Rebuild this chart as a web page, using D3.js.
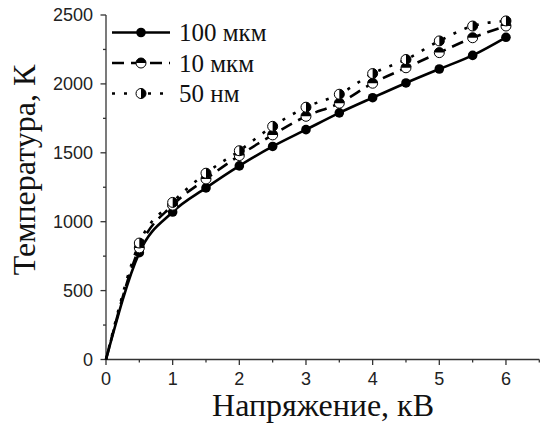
<!DOCTYPE html>
<html>
<head>
<meta charset="utf-8">
<script src="https://cdn.jsdelivr.net/npm/d3@7"></script>
<style>
  html, body { margin: 0; padding: 0; background: #fff; }
  svg { display: block; }
</style>
</head>
<body>
<svg id="chart" width="546" height="426"></svg>
<script>
// Voltage, kV
const voltage = [0, 0.5, 1, 1.5, 2, 2.5, 3, 3.5, 4, 4.5, 5, 5.5, 6];
// Temperature, K, for three particle sizes
const temp100um = [0, 775, 1070, 1245, 1405, 1546, 1668, 1790, 1900, 2007, 2108, 2207, 2338];
const temp10um  = [0, 810, 1120, 1310, 1480, 1630, 1765, 1860, 2005, 2117, 2227, 2335, 2420];
const temp50nm  = [0, 845, 1140, 1352, 1515, 1692, 1831, 1925, 2075, 2177, 2312, 2420, 2457];
const seriesNames = ["100 мкм", "10 мкм", "50 нм"];
const xTicks = [0, 1, 2, 3, 4, 5, 6];
const yTicks = [0, 500, 1000, 1500, 2000, 2500];

const svg = d3.select("#chart");
const x = d3.scaleLinear().domain([0, 6.5]).range([106, 539.3]);
const y = d3.scaleLinear().domain([0, 2500]).range([359.5, 15]);

const axisColor = "#333";

// X axis
const xAxis = svg.append("g").attr("transform", `translate(0,${y(0)})`);
xAxis.append("line").attr("x1", x(0)).attr("x2", x(6.5)).attr("stroke", axisColor).attr("stroke-width", 1.3);
xAxis.selectAll("line.minor").data(d3.range(0.5, 6.6, 1)).join("line")
  .attr("x1", d => x(d)).attr("x2", d => x(d)).attr("y1", 0).attr("y2", 3)
  .attr("stroke", axisColor).attr("stroke-width", 1.3);
xAxis.selectAll("line.major").data(xTicks).join("line")
  .attr("x1", d => x(d)).attr("x2", d => x(d)).attr("y1", 0).attr("y2", 5.5)
  .attr("stroke", axisColor).attr("stroke-width", 1.3);
xAxis.selectAll("text").data(xTicks).join("text")
  .attr("x", d => x(d)).attr("y", 25).attr("text-anchor", "middle")
  .attr("font-family", "Liberation Sans, Arial, sans-serif").attr("font-size", 18).attr("fill", "#222")
  .text(d => d);

// Y axis
const yAxis = svg.append("g").attr("transform", `translate(${x(0)},0)`);
yAxis.append("line").attr("y1", y(0)).attr("y2", y(2500)).attr("stroke", axisColor).attr("stroke-width", 1.3);
yAxis.selectAll("line.minor").data(d3.range(250, 2500, 500)).join("line")
  .attr("y1", d => y(d)).attr("y2", d => y(d)).attr("x1", 0).attr("x2", -3)
  .attr("stroke", axisColor).attr("stroke-width", 1.3);
yAxis.selectAll("line.major").data(yTicks).join("line")
  .attr("y1", d => y(d)).attr("y2", d => y(d)).attr("x1", 0).attr("x2", -5.5)
  .attr("stroke", axisColor).attr("stroke-width", 1.3);
yAxis.selectAll("text").data(yTicks).join("text")
  .attr("x", -13).attr("y", d => y(d)).attr("dy", "0.35em").attr("text-anchor", "end")
  .attr("font-family", "Liberation Sans, Arial, sans-serif").attr("font-size", 18).attr("fill", "#222")
  .text(d => d);

// Axis titles
svg.append("text").attr("x", 323).attr("y", 416).attr("text-anchor", "middle")
  .attr("font-family", "Liberation Serif, Times New Roman, serif").attr("font-size", 32).attr("fill", "#111")
  .text("Напряжение, кВ");
svg.append("text").attr("transform", "translate(35,170) rotate(-90)").attr("text-anchor", "middle")
  .attr("font-family", "Liberation Serif, Times New Roman, serif").attr("font-size", 32).attr("fill", "#111")
  .text("Температура, К");

// Series
const series = [
  { name: seriesNames[0], values: temp100um, dash: null, marker: "full" },
  { name: seriesNames[1], values: temp10um, dash: "12,7", marker: "top" },
  { name: seriesNames[2], values: temp50nm, dash: "3,9", marker: "right" }
];

const line = d3.line()
  .x((d, i) => x(voltage[i]))
  .y(d => y(d))
  .curve(d3.curveMonotoneX);

const r = 5;
function drawMarker(g, kind) {
  if (kind === "full") {
    g.append("circle").attr("r", 4.8).attr("fill", "#000");
    return;
  }
  g.append("circle").attr("r", r).attr("fill", "#fff").attr("stroke", "#000").attr("stroke-width", 1);
  const half = kind === "top"
    ? `M${-r},0 A${r},${r} 0 0 1 ${r},0 Z`
    : `M0,${-r} A${r},${r} 0 0 1 0,${r} Z`;
  g.append("path").attr("d", half).attr("fill", "#000");
}

series.forEach(s => {
  svg.append("path").datum(s.values).attr("d", line)
    .attr("fill", "none").attr("stroke", "#000").attr("stroke-width", 2.6)
    .attr("stroke-dasharray", s.dash);
});

series.forEach(s => {
  s.values.forEach((v, i) => {
    if (voltage[i] === 0) return;
    const g = svg.append("g").attr("transform", `translate(${x(voltage[i])},${y(v)})`);
    drawMarker(g, s.marker);
  });
});

// Legend
const legend = svg.append("g");
series.forEach((s, i) => {
  const ly = 32.5 + i * 30.5;
  legend.append("line").attr("x1", 112).attr("x2", 170).attr("y1", ly).attr("y2", ly)
    .attr("stroke", "#000").attr("stroke-width", 2.6).attr("stroke-dasharray", s.dash);
  const g = legend.append("g").attr("transform", `translate(141,${ly})`);
  drawMarker(g, s.marker);
  legend.append("text").attr("x", 179).attr("y", ly + 8.5)
    .attr("font-family", "Liberation Serif, Times New Roman, serif").attr("font-size", 25).attr("fill", "#111")
    .text(s.name);
});
</script>
</body>
</html>
